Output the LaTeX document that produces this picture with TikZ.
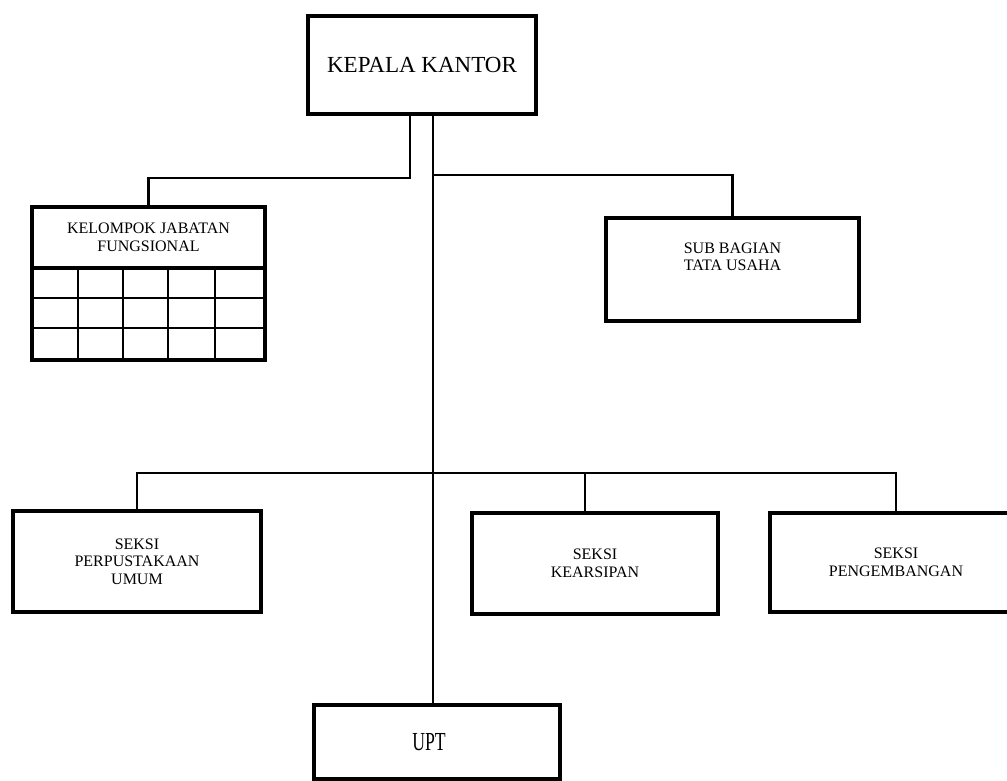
\documentclass[tikz,border=0pt]{standalone}
\usepackage{fontspec}
\setmainfont{Liberation Serif}
\usepackage{tikz}
\usetikzlibrary{positioning}

\begin{document}
\begin{tikzpicture}[x=1pt,y=-1pt,
  unit node/.style={rectangle,draw,line width=4.5pt,align=center,
    font=\fontsize{16}{17.5}\selectfont,inner sep=0pt,outer sep=0pt},
  connector/.style={line width=2.4pt},
  grid line/.style={line width=2pt}]

  \useasboundingbox (0,0) rectangle (1007,780);

  \node[unit node, minimum width=228, minimum height=98,
        font=\fontsize{23}{27}\selectfont] (1) at (422,65) {KEPALA KANTOR};
  \node[unit node, minimum width=233, minimum height=61] (2) at (148.5,237.5) {KELOMPOK JABATAN\\FUNGSIONAL};
  \node[unit node, minimum width=253, minimum height=103] (3) at (732.5,269.5) {SUB BAGIAN\\TATA USAHA\\[8pt]};

  \node[unit node, minimum width=248, minimum height=101] (4) at (137,561.5) {SEKSI\\PERPUSTAKAAN\\UMUM};
  \node[unit node, minimum width=246, minimum height=101] (5) at (595,563.5) {SEKSI\\KEARSIPAN};
  \node[unit node, minimum width=252, minimum height=99] (6) at (896,562.5) {SEKSI\\PENGEMBANGAN};

  \node[unit node, minimum width=246, minimum height=74,
        font=\fontsize{26}{30}\selectfont] (7) at (437,742) {\scalebox{0.68}[1]{UPT}\hspace{16pt}};

  % table under the functional group
  \draw[unit node] (2.south west) rectangle (2.south east |- 0,360);
  \draw[grid line] (2.south west |- 0,298) -- (2.south east |- 0,298);
  \draw[grid line] (2.south west |- 0,328) -- (2.south east |- 0,328);
  \draw[grid line] (78,268) -- (78,360);
  \draw[grid line] (123,268) -- (123,360);
  \draw[grid line] (168,268) -- (168,360);
  \draw[grid line] (215,268) -- (215,360);

  % connectors
  \coordinate (a) at (410,178);
  \coordinate (b) at (433,175);
  \coordinate (t) at (433,473);
  \coordinate (k) at ([xshift=-10pt]5.north);

  \draw[connector] (a |- 1.south) -- (a) -| (2.north);
  \draw[connector] (b) -| (3.north);
  \draw[connector] (t |- 1.south) -- (t |- 7.north);
  \draw[connector] (4.north) |- (t) -| (6.north);
  \draw[connector] (k) -- (k |- t);

\end{tikzpicture}
\end{document}
